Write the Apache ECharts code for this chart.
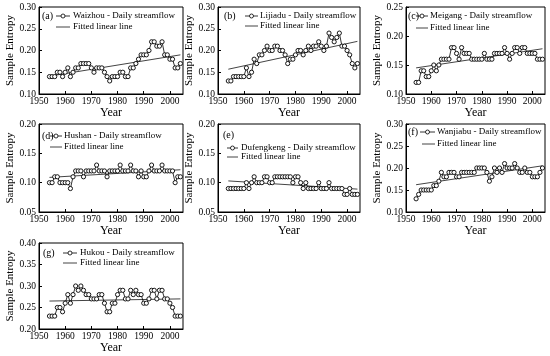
<!DOCTYPE html>
<html><head><meta charset="utf-8">
<script src="https://cdn.jsdelivr.net/npm/echarts@6/dist/echarts.min.js"></script>
<style>html,body{margin:0;padding:0;background:#fff}#c{width:550px;height:356px}</style>
</head><body><div id="c"></div>
<script>
const years = [];
for (let y = 1954; y <= 2004; y++) years.push(y);

const waizhou = [0.14,0.14,0.14,0.15,0.15,0.14,0.15,0.16,0.14,0.15,0.16,0.16,0.17,0.17,0.17,0.17,0.16,0.15,0.16,0.16,0.16,0.15,0.14,0.13,0.14,0.14,0.14,0.15,0.15,0.14,0.14,0.16,0.16,0.17,0.18,0.19,0.19,0.19,0.20,0.22,0.22,0.21,0.21,0.22,0.19,0.19,0.18,0.18,0.16,0.16,0.17];
const lijiadu = [0.13,0.13,0.14,0.14,0.14,0.14,0.14,0.16,0.14,0.15,0.18,0.17,0.19,0.19,0.20,0.21,0.20,0.20,0.21,0.21,0.20,0.20,0.19,0.17,0.18,0.18,0.19,0.20,0.20,0.19,0.20,0.21,0.20,0.21,0.21,0.22,0.21,0.20,0.21,0.24,0.23,0.22,0.23,0.24,0.21,0.21,0.20,0.19,0.17,0.16,0.17];
const meigang = [0.12,0.12,0.14,0.14,0.13,0.13,0.14,0.15,0.14,0.15,0.16,0.16,0.16,0.16,0.18,0.18,0.17,0.16,0.18,0.17,0.17,0.17,0.16,0.16,0.16,0.16,0.16,0.17,0.16,0.16,0.16,0.17,0.17,0.17,0.17,0.18,0.17,0.16,0.17,0.18,0.18,0.17,0.18,0.18,0.17,0.17,0.17,0.17,0.16,0.16,0.16];
const hushan = [0.10,0.10,0.11,0.11,0.10,0.10,0.10,0.10,0.09,0.11,0.12,0.12,0.12,0.11,0.12,0.12,0.12,0.12,0.13,0.12,0.12,0.12,0.11,0.12,0.12,0.12,0.12,0.13,0.12,0.12,0.12,0.13,0.12,0.12,0.11,0.12,0.11,0.11,0.12,0.13,0.12,0.12,0.12,0.13,0.12,0.12,0.12,0.12,0.10,0.11,0.11];
const dufengkeng = [0.09,0.09,0.09,0.09,0.09,0.09,0.09,0.10,0.09,0.10,0.11,0.10,0.10,0.10,0.11,0.11,0.10,0.10,0.11,0.11,0.11,0.11,0.11,0.11,0.11,0.10,0.11,0.11,0.10,0.09,0.10,0.09,0.09,0.09,0.09,0.10,0.09,0.09,0.09,0.10,0.09,0.09,0.09,0.09,0.09,0.08,0.08,0.09,0.08,0.08,0.08];
const wanjiabu = [0.13,0.14,0.15,0.15,0.15,0.15,0.15,0.16,0.16,0.17,0.19,0.18,0.18,0.19,0.19,0.19,0.18,0.18,0.19,0.19,0.19,0.19,0.19,0.19,0.20,0.20,0.20,0.20,0.19,0.17,0.18,0.20,0.19,0.20,0.19,0.21,0.20,0.20,0.20,0.21,0.20,0.19,0.19,0.20,0.19,0.19,0.18,0.18,0.18,0.19,0.20];
const hukou = [0.23,0.23,0.23,0.25,0.25,0.24,0.26,0.28,0.26,0.28,0.30,0.29,0.30,0.29,0.28,0.28,0.27,0.27,0.27,0.28,0.28,0.26,0.24,0.24,0.26,0.26,0.28,0.29,0.29,0.27,0.27,0.29,0.28,0.29,0.28,0.28,0.26,0.26,0.27,0.29,0.29,0.27,0.29,0.29,0.27,0.27,0.26,0.25,0.23,0.23,0.23];

// fitted linear line endpoints [value at 1954, value at 2004]
const fitYears = [1954, 2004];
const fitWaizhou = [0.141, 0.190];
const fitLijiadu = [0.157, 0.221];
const fitMeigang = [0.145, 0.178];
const fitHushan = [0.109, 0.122];
const fitDufengkeng = [0.103, 0.089];
const fitWanjiabu = [0.162, 0.205];
const fitHukou = [0.265, 0.270];

const stations = ['Waizhou','Lijiadu','Meigang','Hushan','Dufengkeng','Wanjiabu','Hukou'];
const letters = ['(a)','(b)','(c)','(d)','(e)','(f)','(g)'];
const yMins = [0.10,0.10,0.10,0.05,0.05,0.10,0.20];
const yMaxs = [0.30,0.30,0.25,0.20,0.20,0.30,0.40];
const yIntervals = [0.05,0.05,0.05,0.05,0.05,0.05,0.05];
const xMin = 1950, xMax = 2005, xInterval = 10;

const seriesData = [waizhou,lijiadu,meigang,hushan,dufengkeng,wanjiabu,hukou];
const fitData = [fitWaizhou,fitLijiadu,fitMeigang,fitHushan,fitDufengkeng,fitWanjiabu,fitHukou];

// layout
const grids = [
  {left:39,top:7,width:144,height:87},
  {left:218,top:7,width:142,height:87},
  {left:406,top:7,width:139,height:87},
  {left:39,top:124,width:144,height:88},
  {left:218,top:124,width:142,height:88},
  {left:406,top:124,width:139,height:88},
  {left:39,top:243,width:144,height:86}
];
// legend layout: letter x,y ; icon x0,x1 ; text x ; row1 y ; row2 y ; row2 icon x0
const legendPos = [
  {lx:42, ly:16, i0:56, i1:70, tx:73, r1:16, r2:27, j0:56},
  {lx:224,ly:16, i0:245,i1:258,tx:260,r1:16, r2:26, j0:245},
  {lx:408,ly:16, i0:416,i1:428,tx:430,r1:16, r2:28, j0:416},
  {lx:42, ly:136,i0:50, i1:62, tx:64, r1:136,r2:147,j0:50},
  {lx:223,ly:135,i0:227,i1:238,tx:241,r1:148,r2:157,j0:227},
  {lx:408,ly:132,i0:420,i1:435,tx:437,r1:132,r2:144,j0:422},
  {lx:43, ly:253,i0:63, i1:77, tx:80, r1:253,r2:263,j0:63}
];

const FONT = 'Liberation Serif';
const option = {
  animation:false,
  backgroundColor:'#fff',
  grid:[], xAxis:[], yAxis:[], series:[], graphic:[]
};
for (let i = 0; i < 7; i++) {
  const g = grids[i];
  option.grid.push(Object.assign({show:true,borderColor:'#000',borderWidth:1,containLabel:false}, g));
  option.xAxis.push({
    type:'value', gridIndex:i, min:xMin, max:xMax, interval:xInterval,
    name:'Year', nameLocation:'middle', nameGap:12,
    nameTextStyle:{fontFamily:FONT,fontSize:12,color:'#000'},
    axisLine:{show:true,lineStyle:{color:'#000',width:1}},
    axisTick:{show:true,inside:true,length:3,lineStyle:{color:'#000'}},
    axisLabel:{fontFamily:FONT,fontSize:9.5,color:'#000',margin:2,showMaxLabel:false,formatter:v=>String(v)},
    splitLine:{show:false}
  });
  option.yAxis.push({
    type:'value', gridIndex:i, min:yMins[i], max:yMaxs[i], interval:yIntervals[i],
    name:'Sample Entropy', nameLocation:'middle', nameGap:23,
    nameTextStyle:{fontFamily:FONT,fontSize:11,color:'#000'},
    axisLine:{show:true,lineStyle:{color:'#000',width:1}},
    axisTick:{show:true,inside:true,length:3,lineStyle:{color:'#000'}},
    axisLabel:{fontFamily:FONT,fontSize:9.5,color:'#000',margin:3,formatter:v=>v.toFixed(2)},
    splitLine:{show:false}
  });
  const name = stations[i] + ' - Daily streamflow';
  option.series.push({
    type:'line', name:name, xAxisIndex:i, yAxisIndex:i,
    data: years.map((y,k)=>[y, seriesData[i][k]]),
    symbol:'circle', symbolSize:4.2, showAllSymbol:true,
    lineStyle:{color:'#000',width:0.8},
    itemStyle:{color:'#fff',borderColor:'#000',borderWidth:0.9}, z:3
  });
  option.series.push({
    type:'line', name:'Fitted linear line', xAxisIndex:i, yAxisIndex:i,
    data: fitYears.map((y,k)=>[y, fitData[i][k]]),
    symbol:'none', lineStyle:{color:'#444',width:1}, z:2
  });
  const lp = legendPos[i];
  const ic = (lp.i0 + lp.i1) / 2;
  option.graphic.push(
    {type:'text', x:lp.lx, y:lp.ly, style:{text:letters[i], font:'10px '+FONT, fill:'#000', verticalAlign:'middle'}},
    {type:'line', shape:{x1:lp.i0,y1:lp.r1,x2:lp.i1,y2:lp.r1}, style:{stroke:'#000',lineWidth:0.8}},
    {type:'circle', shape:{cx:ic,cy:lp.r1,r:2}, style:{fill:'#fff',stroke:'#000',lineWidth:0.8}},
    {type:'text', x:lp.tx, y:lp.r1, style:{text:name, font:'9px '+FONT, fill:'#000', verticalAlign:'middle'}},
    {type:'line', shape:{x1:lp.j0,y1:lp.r2,x2:lp.i1,y2:lp.r2}, style:{stroke:'#444',lineWidth:1}},
    {type:'text', x:lp.tx, y:lp.r2, style:{text:'Fitted linear line', font:'9px '+FONT, fill:'#000', verticalAlign:'middle'}}
  );
}
const chart = echarts.init(document.getElementById('c'), null, {renderer:'canvas'});
chart.setOption(option);
</script></body></html>
